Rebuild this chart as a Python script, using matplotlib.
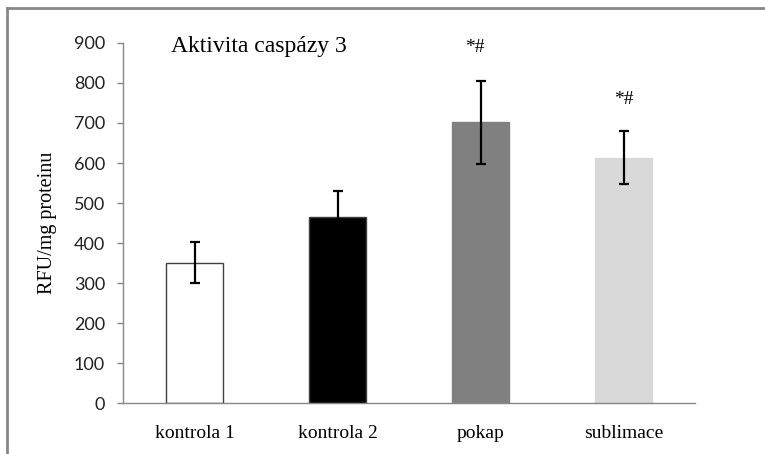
import matplotlib
matplotlib.use("Agg")
import matplotlib.pyplot as plt
from matplotlib.lines import Line2D

# Caspase-3 activity per group
categories = ["kontrola 1", "kontrola 2", "pokap", "sublimace"]
values = [351, 464, 702, 613]
errors = [52, 66, 104, 66]
bar_colors = ["#ffffff", "#000000", "#808080", "#d9d9d9"]
edge_colors = ["#404040", "#404040", "#808080", "#d9d9d9"]

# Significance marks
marks = ["*#", "*#"]
mark_x = [1.96, 3.0]
mark_y = [889, 759]

yticks = [0, 100, 200, 300, 400, 500, 600, 700, 800, 900]

fig = plt.figure(figsize=(7.65, 4.54), dpi=100)
ax = fig.add_axes([0.1608, 0.1123, 0.7477, 0.7930])

x = list(range(len(categories)))
ax.bar(x, values, width=0.4, color=bar_colors, edgecolor=edge_colors,
       linewidth=1.0, zorder=2)
ax.errorbar(x, values, yerr=errors, fmt="none", ecolor="black",
            elinewidth=1.6, capsize=3.4, capthick=1.6, zorder=3)

ax.set_xlim(-0.5, len(categories) - 0.5)
ax.set_ylim(0, 900)
ax.set_yticks(yticks)
ax.set_yticklabels([str(t) for t in yticks], fontfamily="Lato", fontsize=13,
                   color="#222222")
ax.set_xticks(x)
ax.set_xticklabels(categories, fontfamily="Liberation Serif", fontsize=14)

ax.tick_params(axis="y", length=4, width=1, color="#868686", pad=9,
               direction="out")
ax.tick_params(axis="x", length=0, pad=16)

for side in ("top", "right"):
    ax.spines[side].set_visible(False)
for side in ("left", "bottom"):
    ax.spines[side].set_color("#868686")
    ax.spines[side].set_linewidth(1.0)

ax.set_ylabel("RFU/mg proteinu", fontfamily="Liberation Serif", fontsize=14.5)
ax.yaxis.set_label_coords(-0.116, 0.5)

for m, mx, my in zip(marks, mark_x, mark_y):
    ax.text(mx, my, m, ha="center", va="center",
            fontfamily="Liberation Serif", fontsize=14)

ax.text(0.238, 0.99, "Aktivita caspázy 3", transform=ax.transAxes,
        ha="center", va="center", fontfamily="Liberation Serif", fontsize=17)

# Outer frame (top and left edges)
fig.add_artist(Line2D([7 / 765, 7 / 765], [0, 1 - 7.5 / 454],
                      transform=fig.transFigure, color="#888888", lw=2))
fig.add_artist(Line2D([7 / 765, 1], [1 - 7.5 / 454, 1 - 7.5 / 454],
                      transform=fig.transFigure, color="#888888", lw=2))

fig.savefig("out.png", dpi=100)
